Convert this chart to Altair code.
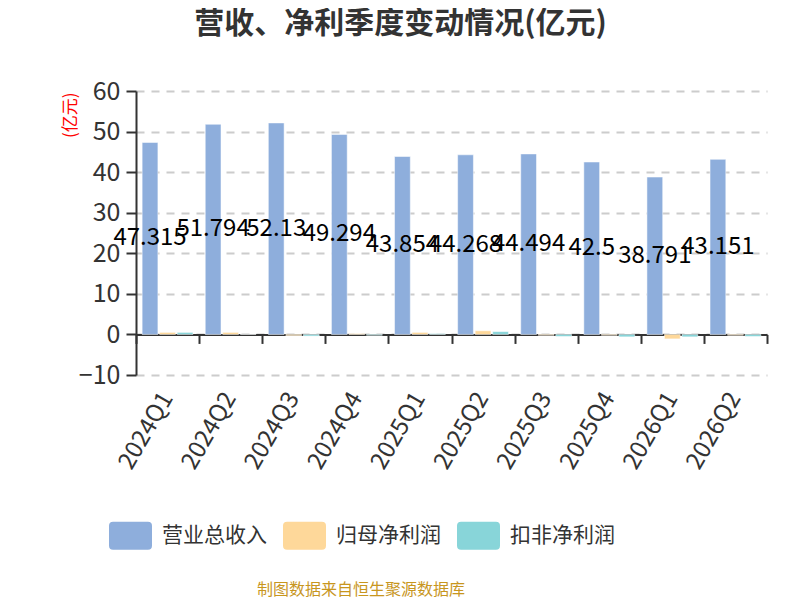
import altair as alt
import pandas as pd

quarters = ["2024Q1", "2024Q2", "2024Q3", "2024Q4", "2025Q1",
            "2025Q2", "2025Q3", "2025Q4", "2026Q1", "2026Q2"]
series_names = ["营业总收入", "归母净利润", "扣非净利润"]
revenue = [47.315, 51.794, 52.13, 49.294, 43.854, 44.268, 44.494, 42.5, 38.791, 43.151]
revenue_text = ["47.315", "51.794", "52.13", "49.294", "43.854",
                "44.268", "44.494", "42.5", "38.791", "43.151"]
net_profit = [0.5, 0.5, -0.3, 0.2, 0.5, 0.9, -0.2, -0.2, -1.1, -0.2]
deducted_profit = [0.5, 0.02, -0.4, -0.2, 0.2, 0.7, -0.5, -0.6, -0.6, -0.5]
colors = ["#8eaedc", "#fed89a", "#88d5d9"]
title_text = "营收、净利季度变动情况(亿元)"
footer_text = "制图数据来自恒生聚源数据库"

rows = []
for s, vals in zip(series_names, [revenue, net_profit, deducted_profit]):
    for q, v in zip(quarters, vals):
        rows.append({"quarter": q, "series": s, "value": v})
df = pd.DataFrame(rows)

lab_df = pd.DataFrame({
    "quarter": quarters,
    "series": [series_names[0]] * len(quarters),
    "value": [v / 2 for v in revenue],
    "label": revenue_text,
})

FONT = "Noto Sans CJK SC"
W, H = 631, 284
zero_offset = -H * 10 / 70

xoff_scale = alt.Scale(domain=series_names, paddingInner=0.1, paddingOuter=0.35)
x_scale = alt.Scale(domain=quarters, paddingInner=0, paddingOuter=0)
y_scale = alt.Scale(domain=[-10, 60], nice=False, zero=True)

y_axis = alt.Axis(title="(亿元)", values=[-10, 0, 10, 20, 30, 40, 50, 60],
                  titleColor="red", titleFontSize=17, titleFontWeight="normal",
                  titleAngle=-90, titleAlign="right", titleBaseline="middle",
                  titleX=-66, titleY=1,
                  labelFontSize=25, labelColor="#333333", labelPadding=6,
                  domainColor="#333333", domainWidth=2,
                  tickColor="#333333", tickWidth=2, tickSize=10,
                  grid=True, gridColor="#cccccc", gridDash=[8, 7], gridWidth=2)

rounded = ("M-0.81,-0.65 L0.81,-0.65 Q1,-0.65 1,-0.46 L1,0.46 Q1,0.65 0.81,0.65 "
           "L-0.81,0.65 Q-1,0.65 -1,0.46 L-1,-0.46 Q-1,-0.65 -0.81,-0.65 Z")

bars = alt.Chart(df).mark_bar(stroke="white", strokeWidth=1, strokeOpacity=0.5).encode(
    x=alt.X("quarter:N", sort=quarters, scale=x_scale,
            axis=alt.Axis(title=None, labels=False, ticks=True, domain=True, grid=False,
                          tickBand="extent", offset=zero_offset, orient="bottom",
                          domainColor="#333333", domainWidth=2,
                          tickColor="#333333", tickWidth=2, tickSize=9)),
    xOffset=alt.XOffset("series:N", sort=series_names, scale=xoff_scale),
    y=alt.Y("value:Q", scale=y_scale, axis=y_axis),
    color=alt.Color("series:N", sort=series_names,
                    scale=alt.Scale(domain=series_names, range=colors),
                    legend=alt.Legend(title=None, orient="none", direction="horizontal",
                                      legendX=-27, legendY=423,
                                      symbolType=rounded, symbolSize=1849,
                                      symbolStrokeWidth=0, symbolOpacity=1,
                                      labelFontSize=21, labelColor="#333333",
                                      labelOffset=10, columnPadding=16)),
)

labels = alt.Chart(lab_df).mark_text(fontSize=24, color="#000000", baseline="middle").encode(
    x=alt.X("quarter:N", sort=quarters, scale=x_scale,
            axis=alt.Axis(title=None, domain=False, ticks=False, grid=False, orient="bottom",
                          labelAngle=-60, labelFontSize=24, labelColor="#333333",
                          labelPadding=19)),
    xOffset=alt.XOffset("series:N", sort=series_names, scale=xoff_scale),
    y=alt.Y("value:Q", scale=y_scale, axis=y_axis),
    text="label:N",
)

footer = alt.Chart(pd.DataFrame({"t": [footer_text]})).mark_text(
    fontSize=16, color="#c8961e", align="center", baseline="middle"
).encode(x=alt.value(225), y=alt.value(499), text="t:N")

chart = alt.layer(bars, labels, footer).resolve_axis(x="independent").properties(
    width=W, height=H,
    title=alt.TitleParams(title_text, fontSize=30, fontWeight="bold", color="#333333",
                          anchor="middle", dx=-51, offset=40, font=FONT),
    autosize=alt.AutoSizeParams(type="none"),
    padding={"left": 128, "top": 83, "right": 25, "bottom": 225},
).configure(font=FONT).configure_view(stroke=None)

chart.save("out.html", embed_options={"renderer": "svg", "actions": False})
